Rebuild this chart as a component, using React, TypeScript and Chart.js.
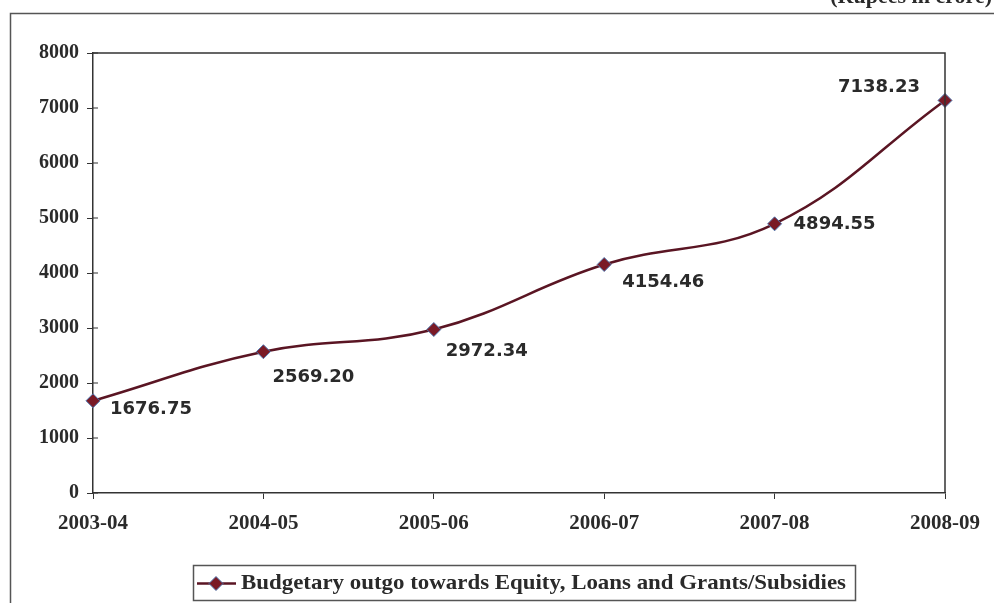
import React, { useEffect, useRef } from "react";
import { Chart, registerables } from "chart.js";

Chart.register(...registerables);

const categories = ["2003-04", "2004-05", "2005-06", "2006-07", "2007-08", "2008-09"];
const outgo = [1676.75, 2569.2, 2972.34, 4154.46, 4894.55, 7138.23];
const valueLabels = ["1676.75", "2569.20", "2972.34", "4154.46", "4894.55", "7138.23"];
const seriesName = "Budgetary outgo towards Equity, Loans and Grants/Subsidies";
const unitNote = "(Rupees in crore)";
const yMin = 0;
const yMax = 8000;
const yStep = 1000;

// label placement (style only): dx, dy, align
const labelOffsets: [number, number, CanvasTextAlign][] = [
  [17, 9, "left"],
  [9, 26, "left"],
  [12, 22, "left"],
  [18, 18, "left"],
  [19, 1, "left"],
  [-25, -13, "right"],
];

const LINE = "#5a1523";
const MARK = "#7a1a26";
const AXIS = "#333333";
const TEXT = "#2a2a2a";
const SERIF = "'Liberation Serif', 'Times New Roman', serif";
const SANS = "'DejaVu Sans', Arial, sans-serif";

const decorPlugin = {
  id: "decor",
  afterDraw(chart: any) {
    const { ctx, chartArea } = chart;
    const { left, right, top, bottom } = chartArea;
    ctx.save();
    // outer frame
    ctx.strokeStyle = "#555";
    ctx.lineWidth = 1.5;
    ctx.strokeRect(10.5, 13.5, 1100, 700);
    // unit note (partly cut at top)
    ctx.fillStyle = TEXT;
    ctx.font = `bold 22px ${SERIF}`;
    ctx.textAlign = "right";
    ctx.textBaseline = "alphabetic";
    ctx.fillText(unitNote, 992, 3);
    // plot border top & right
    ctx.strokeStyle = AXIS;
    ctx.lineWidth = 1.5;
    ctx.beginPath();
    ctx.moveTo(left, top);
    ctx.lineTo(right, top);
    ctx.lineTo(right, bottom);
    ctx.stroke();
    // inner tick marks on y axis
    const ys = chart.scales.y;
    ctx.lineWidth = 1;
    ctx.beginPath();
    for (let v = yMin; v <= yMax; v += yStep) {
      const py = ys.getPixelForValue(v);
      ctx.moveTo(left, py);
      ctx.lineTo(left + 5, py);
    }
    ctx.stroke();
    // value labels
    const meta = chart.getDatasetMeta(0);
    ctx.font = `bold 18px ${SANS}`;
    ctx.fillStyle = TEXT;
    ctx.textBaseline = "middle";
    meta.data.forEach((pt: any, i: number) => {
      const [dx, dy, al] = labelOffsets[i];
      ctx.textAlign = al;
      ctx.fillText(valueLabels[i], pt.x + dx, pt.y + dy);
    });
    // legend
    const lx = 193, ly = 565, lw = 662, lh = 35;
    ctx.fillStyle = "#ffffff";
    ctx.fillRect(lx, ly, lw, lh);
    ctx.strokeStyle = "#555";
    ctx.lineWidth = 1.5;
    ctx.strokeRect(lx + 0.5, ly + 0.5, lw, lh);
    const cy = ly + lh / 2 + 1;
    ctx.strokeStyle = LINE;
    ctx.lineWidth = 2.5;
    ctx.beginPath();
    ctx.moveTo(lx + 4, cy);
    ctx.lineTo(lx + 43, cy);
    ctx.stroke();
    ctx.fillStyle = MARK;
    ctx.strokeStyle = "#4f78b0";
    ctx.lineWidth = 1;
    ctx.beginPath();
    ctx.moveTo(lx + 23, cy - 7);
    ctx.lineTo(lx + 30, cy);
    ctx.lineTo(lx + 23, cy + 7);
    ctx.lineTo(lx + 16, cy);
    ctx.closePath();
    ctx.fill();
    ctx.stroke();
    ctx.fillStyle = TEXT;
    ctx.font = `bold 21px ${SERIF}`;
    ctx.textAlign = "left";
    ctx.textBaseline = "middle";
    const targetW = 605;
    const w = ctx.measureText(seriesName).width;
    const sx = targetW / w;
    ctx.translate(lx + 48, cy);
    ctx.scale(sx, 1);
    ctx.fillText(seriesName, 0, 0);
    ctx.restore();
  },
};

export default function App() {
  const ref = useRef<HTMLCanvasElement>(null);
  useEffect(() => {
    if (!ref.current) return;
    const chart = new Chart(ref.current, {
      type: "line",
      data: {
        labels: categories,
        datasets: [
          {
            label: seriesName,
            data: outgo,
            borderColor: LINE,
            borderWidth: 2.5,
            tension: 0.4,
            pointStyle: "rectRot",
            pointRadius: 7,
            pointBackgroundColor: MARK,
            pointBorderColor: "#4f78b0",
            pointBorderWidth: 1,
            fill: false,
          },
        ],
      },
      options: {
        animation: false,
        responsive: false,
        devicePixelRatio: 1,
        layout: { padding: { left: 0, top: 53, right: 49, bottom: 0 } },
        plugins: { legend: { display: false }, tooltip: { enabled: false } },
        scales: {
          x: {
            offset: false,
            grid: { drawOnChartArea: false, drawTicks: true, tickLength: 6, color: AXIS },
            border: { color: AXIS, width: 1.5 },
            ticks: {
              color: TEXT,
              font: { family: SERIF, size: 21, weight: "bold" },
              padding: 12,
              maxRotation: 0,
              autoSkip: false,
            },
            afterFit(scale: any) {
              scale.height = 110;
            },
          },
          y: {
            min: yMin,
            max: yMax,
            grid: { drawOnChartArea: false, drawTicks: true, tickLength: 6, color: AXIS },
            border: { color: AXIS, width: 1.5 },
            ticks: {
              stepSize: yStep,
              color: TEXT,
              font: { family: SERIF, size: 20, weight: "bold" },
              padding: 8,
              callback: (v: any) => String(v),
            },
            afterFit(scale: any) {
              scale.width = 93;
            },
          },
        },
      },
      plugins: [decorPlugin],
    });
    return () => chart.destroy();
  }, []);
  return (
    <div style={{ position: "fixed", left: 0, top: 0, width: 994, height: 603, background: "#ffffff" }}>
      <canvas ref={ref} width={994} height={603} style={{ display: "block" }} />
    </div>
  );
}
